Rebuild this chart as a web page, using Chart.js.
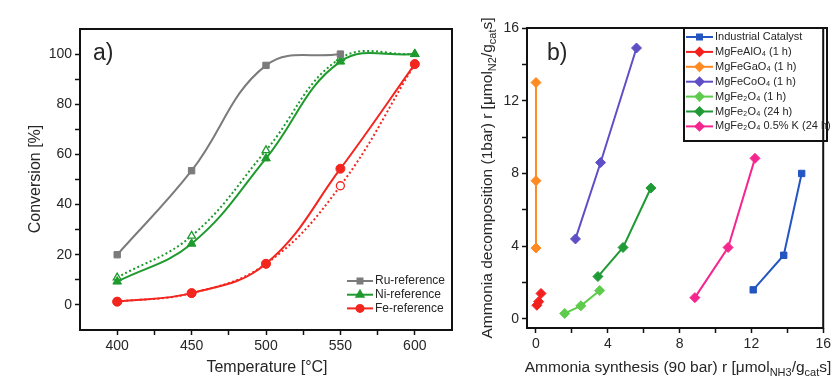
<!DOCTYPE html>
<html>
<head>
<meta charset="utf-8">
<script src="https://cdn.jsdelivr.net/npm/chart.js@4.4.1/dist/chart.umd.min.js"></script>
<style>
  html, body { margin: 0; padding: 0; background: #fff; }
  #wrap { position: relative; width: 834px; height: 378px; overflow: hidden; }
  canvas { position: absolute; top: 0; }
  #convChart { left: 0; }
  #rateChart { left: 462px; }
</style>
</head>
<body>
<div id="wrap">
  <canvas id="convChart" width="462" height="378"></canvas>
  <canvas id="rateChart" width="372" height="378"></canvas>
</div>
<script>
// a) conversion vs temperature
const temps = [400, 450, 500, 550, 600];
const ruConv = [20, 53.5, 95.5, 100];
const niConv = [9.3, 24.4, 58.4, 97, 100];
const niConvDotted = [10.9, 27.5, 61.6, 98.3, 100];
const feConv = [1.3, 4.7, 16.4, 54.3, 96];
const feConvDotted = [1.3, 4.7, 16.4, 47.5, 96];
const tempTicks = [400, 425, 450, 475, 500, 525, 550, 575, 600];
const convTicks = [0, 10, 20, 30, 40, 50, 60, 70, 80, 90, 100];

// b) decomposition rate vs synthesis rate
const industrialX = [12.1, 13.8, 14.8];
const industrialY = [1.6, 3.5, 8.0];
const alX = [0.05, 0.15, 0.28];
const alY = [0.75, 0.95, 1.4];
const gaX = [0, 0, 0];
const gaY = [3.9, 7.6, 13.0];
const coX = [2.2, 3.6, 5.6];
const coY = [4.4, 8.6, 14.9];
const fe1hX = [1.6, 2.5, 3.55];
const fe1hY = [0.3, 0.72, 1.56];
const fe24hX = [3.45, 4.85, 6.4];
const fe24hY = [2.33, 3.93, 7.2];
const feKX = [8.85, 10.7, 12.2];
const feKY = [1.17, 3.93, 8.83];
const rateTicks = [0, 2, 4, 6, 8, 10, 12, 14, 16];

const FONT = '"Liberation Sans", Arial, sans-serif';
const INK = '#262626';

const pts = (xs, ys) => ys.map((y, i) => ({ x: xs[i], y: y }));

// draws a string made of normal and subscript parts, centred on (cx, cy)
function drawRich(ctx, parts, cx, cy, angle, size) {
  ctx.save();
  ctx.translate(cx, cy);
  ctx.rotate(angle);
  const big = size + 'px ' + FONT;
  const small = Math.round(size * 0.68) + 'px ' + FONT;
  let w = 0;
  const widths = parts.map(p => {
    ctx.font = p.sub ? small : big;
    const pw = ctx.measureText(p.t).width;
    w += pw;
    return pw;
  });
  let x = -w / 2;
  ctx.fillStyle = INK;
  ctx.textBaseline = 'middle';
  ctx.textAlign = 'left';
  parts.forEach((p, i) => {
    ctx.font = p.sub ? small : big;
    ctx.fillText(p.t, x, p.sub ? size * 0.32 : 0);
    x += widths[i];
  });
  ctx.restore();
}

function drawKey(ctx, ds, x, y, lineLen) {
  ctx.save();
  ctx.strokeStyle = ds.borderColor;
  ctx.fillStyle = ds.borderColor;
  ctx.lineWidth = 2;
  ctx.beginPath();
  ctx.moveTo(x, y);
  ctx.lineTo(x + lineLen, y);
  ctx.stroke();
  Chart.helpers.drawPoint(ctx, {
    pointStyle: ds.pointStyle, rotation: 0, radius: ds.pointRadius - 1, borderWidth: 1
  }, x + lineLen / 2, y);
  ctx.restore();
}

// frame, axis titles, panel letter and the line+marker legend
const framePlugin = {
  id: 'frame',
  afterDraw(chart, args, opts) {
    const ctx = chart.ctx;
    const a = chart.chartArea;
    ctx.save();
    ctx.strokeStyle = '#111';
    ctx.lineWidth = 2;
    ctx.strokeRect(a.left, a.top, a.right - a.left, a.bottom - a.top);

    ctx.fillStyle = INK;
    ctx.font = opts.letterSize + 'px ' + FONT;
    ctx.textBaseline = 'middle';
    ctx.fillText(opts.letter, a.left + opts.letterDx, a.top + opts.letterDy);

    drawRich(ctx, opts.xTitle, opts.xTitlePos[0], opts.xTitlePos[1], 0, opts.titleSize);
    drawRich(ctx, opts.yTitle, opts.yTitlePos[0], opts.yTitlePos[1], -Math.PI / 2, opts.titleSize);

    const lg = opts.legend;
    if (lg.box) {
      ctx.lineWidth = 2;
      ctx.strokeRect(lg.box[0], lg.box[1], lg.box[2], lg.box[3]);
    }
    ctx.font = lg.font;
    let row = 0;
    chart.data.datasets.forEach(ds => {
      if (!ds.label) return;
      const y = lg.y + row * lg.step;
      drawKey(ctx, ds, lg.x, y, lg.lineLen);
      ctx.fillStyle = INK;
      ctx.fillText(ds.label, lg.x + lg.lineLen + 2, y);
      row++;
    });
    ctx.restore();
  }
};

function tickAxis(min, max, values, isMajor, fontSize, size, isX) {
  return {
    type: 'linear',
    min: min,
    max: max,
    afterBuildTicks: s => { s.ticks = values.map(v => ({ value: v })); },
    afterFit: s => { if (isX) s.height = size; else s.width = size; },
    ticks: {
      autoSkip: false,
      maxRotation: 0,
      padding: 3,
      color: INK,
      font: { family: FONT, size: fontSize },
      callback: v => isMajor(v) ? String(v) : ''
    },
    grid: { display: true, drawOnChartArea: false, tickLength: 5, tickColor: '#111', tickWidth: 1.5 },
    border: { display: false }
  };
}

function lineSet(label, xs, ys, color, style, radius, dotted) {
  return {
    label: label,
    data: pts(xs, ys),
    borderColor: color,
    backgroundColor: color,
    pointStyle: style,
    pointRadius: radius,
    pointBorderColor: color,
    pointBackgroundColor: dotted ? '#fff' : color,
    pointBorderWidth: dotted ? 1.3 : 1,
    borderWidth: 2,
    borderDash: dotted ? [2, 2.5] : [],
    tension: 0.4,
    fill: false
  };
}

const GRAY = '#7b7b7b', GREEN = '#1f9a2e', RED = '#f2261f';

new Chart(document.getElementById('convChart'), {
  type: 'line',
  data: {
    datasets: [
      lineSet('Ru-reference', temps, ruConv, GRAY, 'rect', 4.5, false),
      lineSet('Ni-reference', temps, niConv, GREEN, 'triangle', 5, false),
      lineSet('Fe-reference', temps, feConv, RED, 'circle', 4.5, false),
      lineSet('', temps, niConvDotted, GREEN, 'triangle', 4.5, true),
      lineSet('', temps, feConvDotted, RED, 'circle', 4, true)
    ]
  },
  options: {
    responsive: false,
    animation: false,
    layout: { padding: { left: 0, right: 10, top: 29, bottom: 0 } },
    scales: {
      x: tickAxis(375, 625, tempTicks, v => v % 50 === 0, 14, 48, true),
      y: tickAxis(-10, 110, convTicks, v => v % 20 === 0, 14, 80, false)
    },
    plugins: {
      legend: { display: false },
      tooltip: { enabled: false },
      frame: {
        letter: 'a)', letterSize: 23, letterDx: 13, letterDy: 25,
        titleSize: 16,
        xTitle: [{ t: 'Temperature [°C]' }],
        xTitlePos: [267, 368],
        yTitle: [{ t: 'Conversion [%]' }],
        yTitlePos: [36, 179],
        legend: { x: 347, y: 281, step: 13.7, lineLen: 26, font: '12px ' + FONT }
      }
    }
  },
  plugins: [framePlugin]
});

new Chart(document.getElementById('rateChart'), {
  type: 'scatter',
  data: {
    datasets: [
      lineSet('Industrial Catalyst', industrialX, industrialY, '#2455c2', 'rect', 4.5, false),
      lineSet('MgFeAlO₄ (1 h)', alX, alY, '#f2201e', 'rectRot', 5, false),
      lineSet('MgFeGaO₄ (1 h)', gaX, gaY, '#ff8a22', 'rectRot', 5, false),
      lineSet('MgFeCoO₄ (1 h)', coX, coY, '#5f4fc6', 'rectRot', 5, false),
      lineSet('MgFe₂O₄ (1 h)', fe1hX, fe1hY, '#5ecb4c', 'rectRot', 5, false),
      lineSet('MgFe₂O₄ (24 h)', fe24hX, fe24hY, '#1f9a35', 'rectRot', 5, false),
      lineSet('MgFe₂O₄ 0.5% K (24 h)', feKX, feKY, '#f5268f', 'rectRot', 5, false)
    ].map(ds => Object.assign(ds, { showLine: true, tension: 0 }))
  },
  options: {
    responsive: false,
    animation: false,
    layout: { padding: { left: 0, right: 7, top: 28, bottom: 0 } },
    scales: {
      x: tickAxis(-0.5, 16, rateTicks, v => v % 4 === 0, 14, 50, true),
      y: tickAxis(-0.5, 16, rateTicks, v => v % 4 === 0, 14, 65, false)
    },
    plugins: {
      legend: { display: false },
      tooltip: { enabled: false },
      frame: {
        letter: 'b)', letterSize: 23, letterDx: 20, letterDy: 26,
        titleSize: 15.5,
        xTitle: [{ t: 'Ammonia synthesis (90 bar) r [μmol' }, { t: 'NH3', sub: true }, { t: '/g' }, { t: 'cat', sub: true }, { t: 's]' }],
        xTitlePos: [216, 368],
        yTitle: [{ t: 'Ammonia decomposition (1bar) r [μmol' }, { t: 'N2', sub: true }, { t: '/g' }, { t: 'cat', sub: true }, { t: 's]' }],
        yTitlePos: [26, 178],
        legend: { box: [222, 28, 143, 113], x: 224, y: 37, step: 14.9, lineLen: 27, font: '11px ' + FONT }
      }
    }
  },
  plugins: [framePlugin]
});
</script>
</body>
</html>
